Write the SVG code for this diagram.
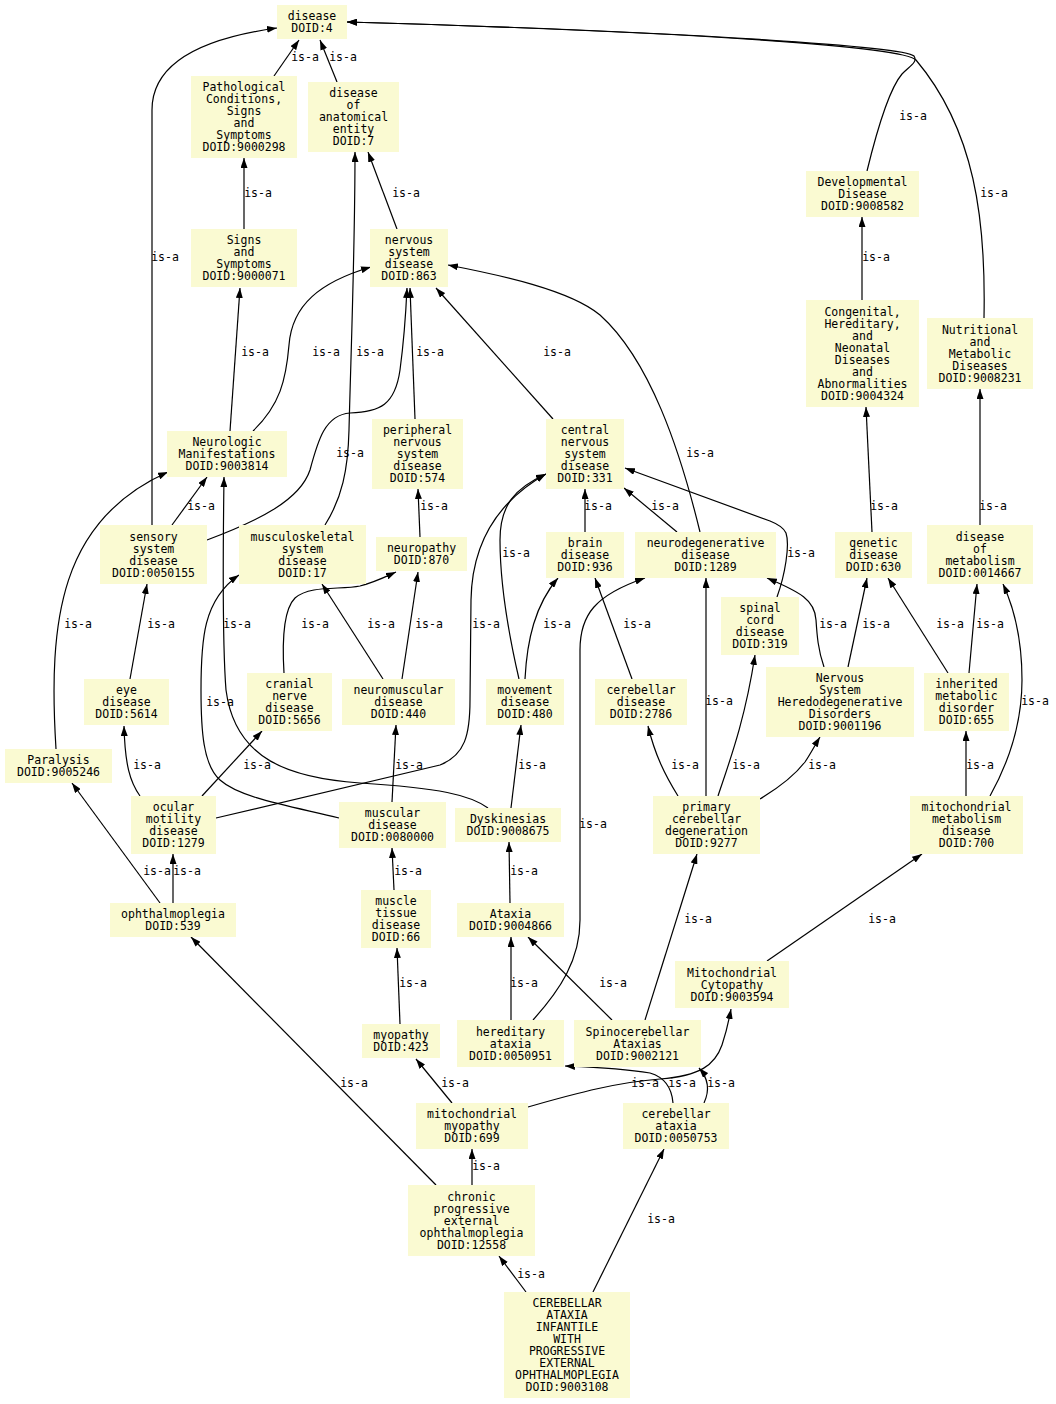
<svg xmlns="http://www.w3.org/2000/svg" width="1056" height="1404" viewBox="0 0 1056 1404">
<style>
.n rect{fill:#fafad2;stroke:none}
text{font-family:"DejaVu Sans Mono","Liberation Mono",monospace;font-size:11.5px;fill:#000;text-anchor:middle}
.e path{fill:none;stroke:#000;stroke-width:1.2;marker-end:url(#a)}
</style>
<defs>
<marker id="a" viewBox="0 0 10 7" refX="10" refY="3.5" markerWidth="10" markerHeight="7" orient="auto" markerUnits="userSpaceOnUse"><path d="M0,0 L10,3.5 L0,7 z" fill="#000"/></marker>
</defs>
<rect width="1056" height="1404" fill="#fff"/>
<g id="connectors" class="e">
<path d="M274,76 L299,40"/>
<path d="M337,82 L320,40"/>
<path d="M152,525 L152,110 C152,62 205,38 277,28"/>
<path d="M867,171 C877,130 890,88 902,74 C910,66 918,62 914,56 C905,47 700,32 347,22"/>
<path d="M984,318 C986,220 975,130 916,60 C905,47 700,32 347,22"/>
<path d="M244,229 L244,158"/>
<path d="M397,229 L368,152"/>
<path d="M325,525 C342,498 348,470 349,430 C351,350 355,250 355,152"/>
<path d="M230,431 L240,288"/>
<path d="M253,431 C280,405 286,380 289,345 C292,305 320,282 371,267"/>
<path d="M207,540 C260,520 300,500 310,470 C318,440 325,415 350,413 C380,412 395,405 400,370 C404,340 406,310 407,288"/>
<path d="M415,419 L410,288"/>
<path d="M553,419 L436,288"/>
<path d="M700,532 C680,450 650,360 600,315 C570,290 500,275 448,265"/>
<path d="M172,525 L207,477"/>
<path d="M56,749 C48,620 60,520 168,472"/>
<path d="M488,808 C470,795 440,788 360,783 C290,778 235,760 226,690 C222,640 223,550 224,477"/>
<path d="M339,818 C290,806 240,798 220,780 C203,765 201,730 201,690 C201,640 203,600 239,575"/>
<path d="M216,818 L440,765 C465,755 470,735 470,700 L471,600 C472,540 500,500 546,474"/>
<path d="M140,796 C130,782 125,765 124,726"/>
<path d="M202,796 L262,731"/>
<path d="M173,903 L173,854"/>
<path d="M160,903 L72,783"/>
<path d="M130,679 L147,584"/>
<path d="M284,673 C282,640 283,610 295,598 C310,585 340,590 360,586 C375,582 385,577 396,572"/>
<path d="M383,679 L322,584"/>
<path d="M402,679 L418,572"/>
<path d="M420,537 L418,489"/>
<path d="M392,802 L396,725"/>
<path d="M585,532 L585,489"/>
<path d="M677,532 L624,488"/>
<path d="M519,679 C510,640 500,590 500,540 C500,505 515,488 546,474"/>
<path d="M525,679 C527,640 535,605 558,578"/>
<path d="M632,679 L595,578"/>
<path d="M777,597 C785,575 790,545 786,533 C784,528 780,525 770,521 L625,468"/>
<path d="M533,1020 C560,990 580,960 580,920 L580,650 C580,615 595,595 645,578"/>
<path d="M706,796 L706,578"/>
<path d="M824,667 C818,650 817,635 816,620 C815,600 800,592 767,578"/>
<path d="M848,667 L867,578"/>
<path d="M872,532 L866,407"/>
<path d="M948,673 L888,578"/>
<path d="M969,673 L977,584"/>
<path d="M980,525 L980,389"/>
<path d="M862,300 L862,217"/>
<path d="M966,796 L966,731"/>
<path d="M990,796 C1010,760 1022,720 1022,680 C1022,640 1015,610 1003,584"/>
<path d="M678,796 C665,775 655,755 648,726"/>
<path d="M718,796 C730,760 745,720 755,655"/>
<path d="M760,799 C780,787 795,775 805,762 C811,753 815,745 820,737"/>
<path d="M511,808 L521,725"/>
<path d="M510,903 L509,842"/>
<path d="M394,890 L392,848"/>
<path d="M400,1024 L397,948"/>
<path d="M511,1020 L511,937"/>
<path d="M612,1020 L528,937"/>
<path d="M645,1020 L697,854"/>
<path d="M767,961 L922,854"/>
<path d="M452,1103 L416,1059"/>
<path d="M528,1107 C580,1092 620,1082 660,1079 C700,1076 715,1065 722,1045 C727,1030 729,1020 731,1009"/>
<path d="M673,1103 C672,1090 667,1078 650,1073 C620,1068 590,1067 565,1066"/>
<path d="M704,1103 C710,1090 708,1078 699,1068"/>
<path d="M472,1185 L472,1149"/>
<path d="M436,1185 L191,937"/>
<path d="M526,1292 L499,1256"/>
<path d="M593,1292 L664,1149"/>
<g id="edge-labels">
<text x="305" y="61">is-a</text>
<text x="343" y="61">is-a</text>
<text x="913" y="120">is-a</text>
<text x="165" y="261">is-a</text>
<text x="258" y="197">is-a</text>
<text x="406" y="197">is-a</text>
<text x="994" y="197">is-a</text>
<text x="876" y="261">is-a</text>
<text x="255" y="356">is-a</text>
<text x="326" y="356">is-a</text>
<text x="370" y="356">is-a</text>
<text x="430" y="356">is-a</text>
<text x="557" y="356">is-a</text>
<text x="350" y="457">is-a</text>
<text x="700" y="457">is-a</text>
<text x="201" y="510">is-a</text>
<text x="434" y="510">is-a</text>
<text x="598" y="510">is-a</text>
<text x="665" y="510">is-a</text>
<text x="884" y="510">is-a</text>
<text x="993" y="510">is-a</text>
<text x="516" y="557">is-a</text>
<text x="801" y="557">is-a</text>
<text x="78" y="628">is-a</text>
<text x="161" y="628">is-a</text>
<text x="237" y="628">is-a</text>
<text x="315" y="628">is-a</text>
<text x="381" y="628">is-a</text>
<text x="429" y="628">is-a</text>
<text x="486" y="628">is-a</text>
<text x="557" y="628">is-a</text>
<text x="637" y="628">is-a</text>
<text x="833" y="628">is-a</text>
<text x="876" y="628">is-a</text>
<text x="950" y="628">is-a</text>
<text x="990" y="628">is-a</text>
<text x="220" y="706">is-a</text>
<text x="719" y="705">is-a</text>
<text x="1035" y="705">is-a</text>
<text x="147" y="769">is-a</text>
<text x="257" y="769">is-a</text>
<text x="409" y="769">is-a</text>
<text x="532" y="769">is-a</text>
<text x="685" y="769">is-a</text>
<text x="746" y="769">is-a</text>
<text x="822" y="769">is-a</text>
<text x="980" y="769">is-a</text>
<text x="593" y="828">is-a</text>
<text x="157" y="875">is-a</text>
<text x="187" y="875">is-a</text>
<text x="408" y="875">is-a</text>
<text x="524" y="875">is-a</text>
<text x="698" y="923">is-a</text>
<text x="882" y="923">is-a</text>
<text x="413" y="987">is-a</text>
<text x="524" y="987">is-a</text>
<text x="613" y="987">is-a</text>
<text x="354" y="1087">is-a</text>
<text x="455" y="1087">is-a</text>
<text x="645" y="1087">is-a</text>
<text x="682" y="1087">is-a</text>
<text x="721" y="1087">is-a</text>
<text x="486" y="1170">is-a</text>
<text x="661" y="1223">is-a</text>
<text x="531" y="1278">is-a</text>
</g>
</g>
<g id="doid4" class="n"><rect x="277" y="5" width="70" height="34"/><text x="312" y="20">disease<tspan x="312" dy="12">DOID:4</tspan></text></g>
<g id="doid9000298" class="n"><rect x="191" y="76" width="106" height="82"/><text x="244" y="91">Pathological<tspan x="244" dy="12">Conditions,</tspan><tspan x="244" dy="12">Signs</tspan><tspan x="244" dy="12">and</tspan><tspan x="244" dy="12">Symptoms</tspan><tspan x="244" dy="12">DOID:9000298</tspan></text></g>
<g id="doid7" class="n"><rect x="308" y="82" width="91" height="70"/><text x="353.5" y="97">disease<tspan x="353.5" dy="12">of</tspan><tspan x="353.5" dy="12">anatomical</tspan><tspan x="353.5" dy="12">entity</tspan><tspan x="353.5" dy="12">DOID:7</tspan></text></g>
<g id="doid9000071" class="n"><rect x="191" y="229" width="106" height="58"/><text x="244" y="244">Signs<tspan x="244" dy="12">and</tspan><tspan x="244" dy="12">Symptoms</tspan><tspan x="244" dy="12">DOID:9000071</tspan></text></g>
<g id="doid863" class="n"><rect x="370" y="229" width="78" height="58"/><text x="409" y="244">nervous<tspan x="409" dy="12">system</tspan><tspan x="409" dy="12">disease</tspan><tspan x="409" dy="12">DOID:863</tspan></text></g>
<g id="doid9008582" class="n"><rect x="806" y="171" width="113" height="46"/><text x="862.5" y="186">Developmental<tspan x="862.5" dy="12">Disease</tspan><tspan x="862.5" dy="12">DOID:9008582</tspan></text></g>
<g id="doid9004324" class="n"><rect x="806" y="300" width="113" height="107"/><text x="862.5" y="315.5">Congenital,<tspan x="862.5" dy="12">Hereditary,</tspan><tspan x="862.5" dy="12">and</tspan><tspan x="862.5" dy="12">Neonatal</tspan><tspan x="862.5" dy="12">Diseases</tspan><tspan x="862.5" dy="12">and</tspan><tspan x="862.5" dy="12">Abnormalities</tspan><tspan x="862.5" dy="12">DOID:9004324</tspan></text></g>
<g id="doid9008231" class="n"><rect x="927" y="318" width="106" height="71"/><text x="980" y="333.5">Nutritional<tspan x="980" dy="12">and</tspan><tspan x="980" dy="12">Metabolic</tspan><tspan x="980" dy="12">Diseases</tspan><tspan x="980" dy="12">DOID:9008231</tspan></text></g>
<g id="doid9003814" class="n"><rect x="167" y="431" width="120" height="46"/><text x="227" y="446">Neurologic<tspan x="227" dy="12">Manifestations</tspan><tspan x="227" dy="12">DOID:9003814</tspan></text></g>
<g id="doid574" class="n"><rect x="372" y="419" width="91" height="70"/><text x="417.5" y="434">peripheral<tspan x="417.5" dy="12">nervous</tspan><tspan x="417.5" dy="12">system</tspan><tspan x="417.5" dy="12">disease</tspan><tspan x="417.5" dy="12">DOID:574</tspan></text></g>
<g id="doid331" class="n"><rect x="546" y="419" width="78" height="70"/><text x="585" y="434">central<tspan x="585" dy="12">nervous</tspan><tspan x="585" dy="12">system</tspan><tspan x="585" dy="12">disease</tspan><tspan x="585" dy="12">DOID:331</tspan></text></g>
<g id="doid0050155" class="n"><rect x="100" y="525" width="107" height="59"/><text x="153.5" y="540.5">sensory<tspan x="153.5" dy="12">system</tspan><tspan x="153.5" dy="12">disease</tspan><tspan x="153.5" dy="12">DOID:0050155</tspan></text></g>
<g id="doid17" class="n"><rect x="239" y="525" width="127" height="59"/><text x="302.5" y="540.5">musculoskeletal<tspan x="302.5" dy="12">system</tspan><tspan x="302.5" dy="12">disease</tspan><tspan x="302.5" dy="12">DOID:17</tspan></text></g>
<g id="doid870" class="n"><rect x="376" y="537" width="91" height="34"/><text x="421.5" y="552">neuropathy<tspan x="421.5" dy="12">DOID:870</tspan></text></g>
<g id="doid936" class="n"><rect x="546" y="532" width="78" height="46"/><text x="585" y="547">brain<tspan x="585" dy="12">disease</tspan><tspan x="585" dy="12">DOID:936</tspan></text></g>
<g id="doid1289" class="n"><rect x="635" y="532" width="141" height="46"/><text x="705.5" y="547">neurodegenerative<tspan x="705.5" dy="12">disease</tspan><tspan x="705.5" dy="12">DOID:1289</tspan></text></g>
<g id="doid630" class="n"><rect x="835" y="532" width="77" height="46"/><text x="873.5" y="547">genetic<tspan x="873.5" dy="12">disease</tspan><tspan x="873.5" dy="12">DOID:630</tspan></text></g>
<g id="doid0014667" class="n"><rect x="927" y="525" width="106" height="59"/><text x="980" y="540.5">disease<tspan x="980" dy="12">of</tspan><tspan x="980" dy="12">metabolism</tspan><tspan x="980" dy="12">DOID:0014667</tspan></text></g>
<g id="doid319" class="n"><rect x="721" y="597" width="78" height="58"/><text x="760" y="612">spinal<tspan x="760" dy="12">cord</tspan><tspan x="760" dy="12">disease</tspan><tspan x="760" dy="12">DOID:319</tspan></text></g>
<g id="doid5614" class="n"><rect x="84" y="679" width="85" height="46"/><text x="126.5" y="694">eye<tspan x="126.5" dy="12">disease</tspan><tspan x="126.5" dy="12">DOID:5614</tspan></text></g>
<g id="doid5656" class="n"><rect x="247" y="673" width="85" height="58"/><text x="289.5" y="688">cranial<tspan x="289.5" dy="12">nerve</tspan><tspan x="289.5" dy="12">disease</tspan><tspan x="289.5" dy="12">DOID:5656</tspan></text></g>
<g id="doid440" class="n"><rect x="342" y="679" width="113" height="46"/><text x="398.5" y="694">neuromuscular<tspan x="398.5" dy="12">disease</tspan><tspan x="398.5" dy="12">DOID:440</tspan></text></g>
<g id="doid480" class="n"><rect x="486" y="679" width="78" height="46"/><text x="525" y="694">movement<tspan x="525" dy="12">disease</tspan><tspan x="525" dy="12">DOID:480</tspan></text></g>
<g id="doid2786" class="n"><rect x="595" y="679" width="92" height="46"/><text x="641" y="694">cerebellar<tspan x="641" dy="12">disease</tspan><tspan x="641" dy="12">DOID:2786</tspan></text></g>
<g id="doid9001196" class="n"><rect x="766" y="667" width="148" height="70"/><text x="840" y="682">Nervous<tspan x="840" dy="12">System</tspan><tspan x="840" dy="12">Heredodegenerative</tspan><tspan x="840" dy="12">Disorders</tspan><tspan x="840" dy="12">DOID:9001196</tspan></text></g>
<g id="doid655" class="n"><rect x="924" y="673" width="85" height="58"/><text x="966.5" y="688">inherited<tspan x="966.5" dy="12">metabolic</tspan><tspan x="966.5" dy="12">disorder</tspan><tspan x="966.5" dy="12">DOID:655</tspan></text></g>
<g id="doid9005246" class="n"><rect x="5" y="749" width="107" height="34"/><text x="58.5" y="764">Paralysis<tspan x="58.5" dy="12">DOID:9005246</tspan></text></g>
<g id="doid1279" class="n"><rect x="131" y="796" width="85" height="58"/><text x="173.5" y="811">ocular<tspan x="173.5" dy="12">motility</tspan><tspan x="173.5" dy="12">disease</tspan><tspan x="173.5" dy="12">DOID:1279</tspan></text></g>
<g id="doid0080000" class="n"><rect x="339" y="802" width="107" height="46"/><text x="392.5" y="817">muscular<tspan x="392.5" dy="12">disease</tspan><tspan x="392.5" dy="12">DOID:0080000</tspan></text></g>
<g id="doid9008675" class="n"><rect x="455" y="808" width="106" height="34"/><text x="508" y="823">Dyskinesias<tspan x="508" dy="12">DOID:9008675</tspan></text></g>
<g id="doid9277" class="n"><rect x="653" y="796" width="107" height="58"/><text x="706.5" y="811">primary<tspan x="706.5" dy="12">cerebellar</tspan><tspan x="706.5" dy="12">degeneration</tspan><tspan x="706.5" dy="12">DOID:9277</tspan></text></g>
<g id="doid700" class="n"><rect x="910" y="796" width="113" height="58"/><text x="966.5" y="811">mitochondrial<tspan x="966.5" dy="12">metabolism</tspan><tspan x="966.5" dy="12">disease</tspan><tspan x="966.5" dy="12">DOID:700</tspan></text></g>
<g id="doid539" class="n"><rect x="110" y="903" width="126" height="34"/><text x="173" y="918">ophthalmoplegia<tspan x="173" dy="12">DOID:539</tspan></text></g>
<g id="doid66" class="n"><rect x="361" y="890" width="70" height="58"/><text x="396" y="905">muscle<tspan x="396" dy="12">tissue</tspan><tspan x="396" dy="12">disease</tspan><tspan x="396" dy="12">DOID:66</tspan></text></g>
<g id="doid9004866" class="n"><rect x="457" y="903" width="107" height="34"/><text x="510.5" y="918">Ataxia<tspan x="510.5" dy="12">DOID:9004866</tspan></text></g>
<g id="doid9003594" class="n"><rect x="675" y="961" width="114" height="47"/><text x="732" y="976.5">Mitochondrial<tspan x="732" dy="12">Cytopathy</tspan><tspan x="732" dy="12">DOID:9003594</tspan></text></g>
<g id="doid423" class="n"><rect x="362" y="1024" width="78" height="34"/><text x="401" y="1039">myopathy<tspan x="401" dy="12">DOID:423</tspan></text></g>
<g id="doid0050951" class="n"><rect x="457" y="1020" width="107" height="47"/><text x="510.5" y="1035.5">hereditary<tspan x="510.5" dy="12">ataxia</tspan><tspan x="510.5" dy="12">DOID:0050951</tspan></text></g>
<g id="doid9002121" class="n"><rect x="574" y="1020" width="127" height="47"/><text x="637.5" y="1035.5">Spinocerebellar<tspan x="637.5" dy="12">Ataxias</tspan><tspan x="637.5" dy="12">DOID:9002121</tspan></text></g>
<g id="doid699" class="n"><rect x="416" y="1103" width="112" height="46"/><text x="472" y="1118">mitochondrial<tspan x="472" dy="12">myopathy</tspan><tspan x="472" dy="12">DOID:699</tspan></text></g>
<g id="doid0050753" class="n"><rect x="623" y="1103" width="106" height="46"/><text x="676" y="1118">cerebellar<tspan x="676" dy="12">ataxia</tspan><tspan x="676" dy="12">DOID:0050753</tspan></text></g>
<g id="doid12558" class="n"><rect x="408" y="1185" width="127" height="71"/><text x="471.5" y="1200.5">chronic<tspan x="471.5" dy="12">progressive</tspan><tspan x="471.5" dy="12">external</tspan><tspan x="471.5" dy="12">ophthalmoplegia</tspan><tspan x="471.5" dy="12">DOID:12558</tspan></text></g>
<g id="doid9003108" class="n"><rect x="504" y="1292" width="126" height="106"/><text x="567" y="1307">CEREBELLAR<tspan x="567" dy="12">ATAXIA</tspan><tspan x="567" dy="12">INFANTILE</tspan><tspan x="567" dy="12">WITH</tspan><tspan x="567" dy="12">PROGRESSIVE</tspan><tspan x="567" dy="12">EXTERNAL</tspan><tspan x="567" dy="12">OPHTHALMOPLEGIA</tspan><tspan x="567" dy="12">DOID:9003108</tspan></text></g>
</svg>
